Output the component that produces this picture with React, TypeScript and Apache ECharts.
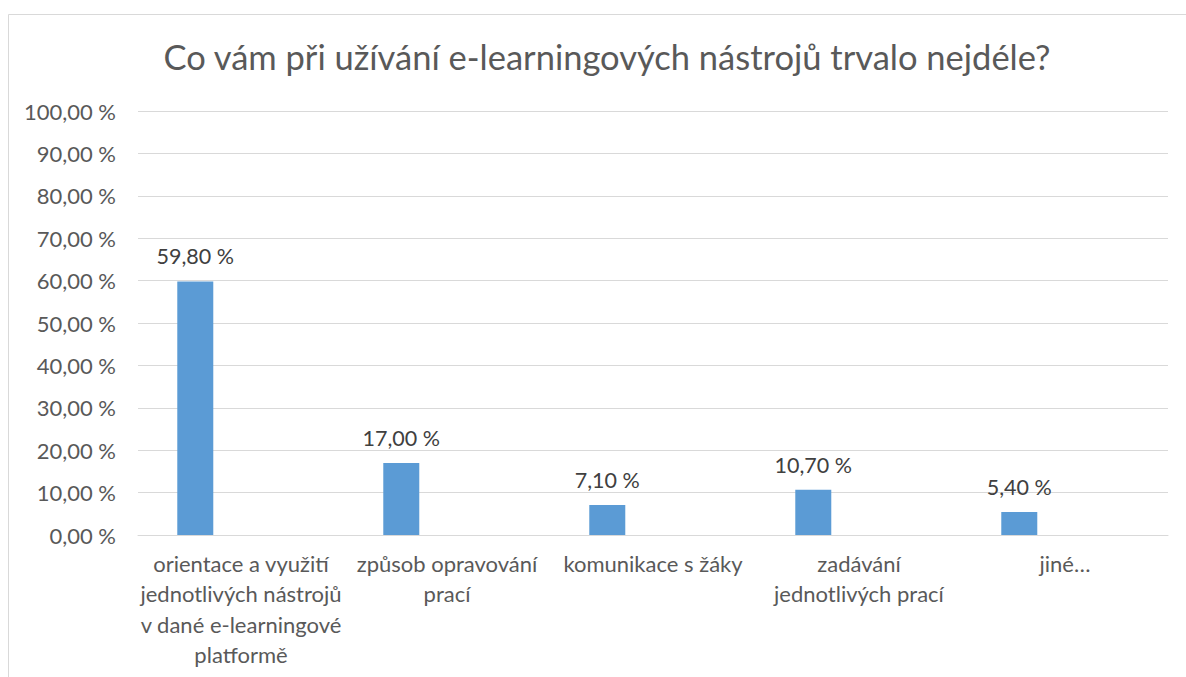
import React, { useEffect, useRef } from "react";
import * as echarts from "echarts";

const categories: string[] = [
  "orientace a využití\njednotlivých nástrojů\nv dané e-learningové\nplatformě",
  "způsob opravování\nprací",
  "komunikace s žáky",
  "zadávání\njednotlivých prací",
  "jiné…",
];
const values: number[] = [59.8, 17.0, 7.1, 10.7, 5.4];
const emptySeries: (number | null)[] = [null, null, null, null, null];
const yTicks = { min: 0, max: 100, interval: 10 };
const titleText = "Co vám při užívání e-learningových nástrojů trvalo nejdéle?";

const FONT = "Lato, 'Noto Sans', sans-serif";
const fmt = (v: number) => v.toFixed(2).replace(".", ",") + " %";

export default function App() {
  const ref = useRef<HTMLDivElement>(null);
  useEffect(() => {
    if (!ref.current) return;
    const chart = echarts.init(ref.current, null, { renderer: "svg" });
    chart.setOption({
      animation: false,
      backgroundColor: "#ffffff",
      title: {
        text: titleText,
        left: 602,
        top: 34,
        textAlign: "center",
        textStyle: { fontFamily: FONT, fontSize: 34.5, fontWeight: "normal", color: "#595959" },
      },
      graphic: [
        {
          type: "rect",
          shape: { x: 8.5, y: 14.5, width: 1250, height: 700 },
          style: { fill: "none", stroke: "#d9d9d9", lineWidth: 1 },
          silent: true,
        },
      ],
      grid: { left: 138, right: 18, top: 111, bottom: 142, containLabel: false },
      xAxis: {
        type: "category",
        data: categories,
        axisLine: { show: true, lineStyle: { color: "#d9d9d9", width: 1 } },
        axisTick: { show: false },
        axisLabel: {
          interval: 0,
          margin: 13,
          fontFamily: FONT,
          fontSize: 22,
          lineHeight: 30.5,
          color: "#595959",
          align: "center",
        },
      },
      yAxis: {
        type: "value",
        min: yTicks.min,
        max: yTicks.max,
        interval: yTicks.interval,
        axisLine: { show: false },
        axisTick: { show: false },
        splitLine: { lineStyle: { color: "#d9d9d9", width: 1 } },
        axisLabel: {
          margin: 22,
          fontFamily: FONT,
          fontSize: 22,
          color: "#595959",
          formatter: (v: number) => fmt(v),
        },
      },
      series: [
        {
          type: "bar",
          data: values,
          barWidth: 36,
          barGap: "154%",
          itemStyle: { color: "#5b9bd5" },
          label: {
            show: true,
            position: "top",
            distance: 14,
            fontFamily: FONT,
            fontSize: 21.5,
            color: "#404040",
            formatter: (p: any) => fmt(p.value),
          },
        },
        {
          type: "bar",
          data: emptySeries,
          barWidth: 36,
          itemStyle: { color: "#ed7d31" },
        },
      ],
    });
    return () => chart.dispose();
  }, []);
  return (
    <div
      ref={ref}
      style={{ position: "absolute", left: 0, top: 0, width: 1186, height: 677 }}
    />
  );
}
